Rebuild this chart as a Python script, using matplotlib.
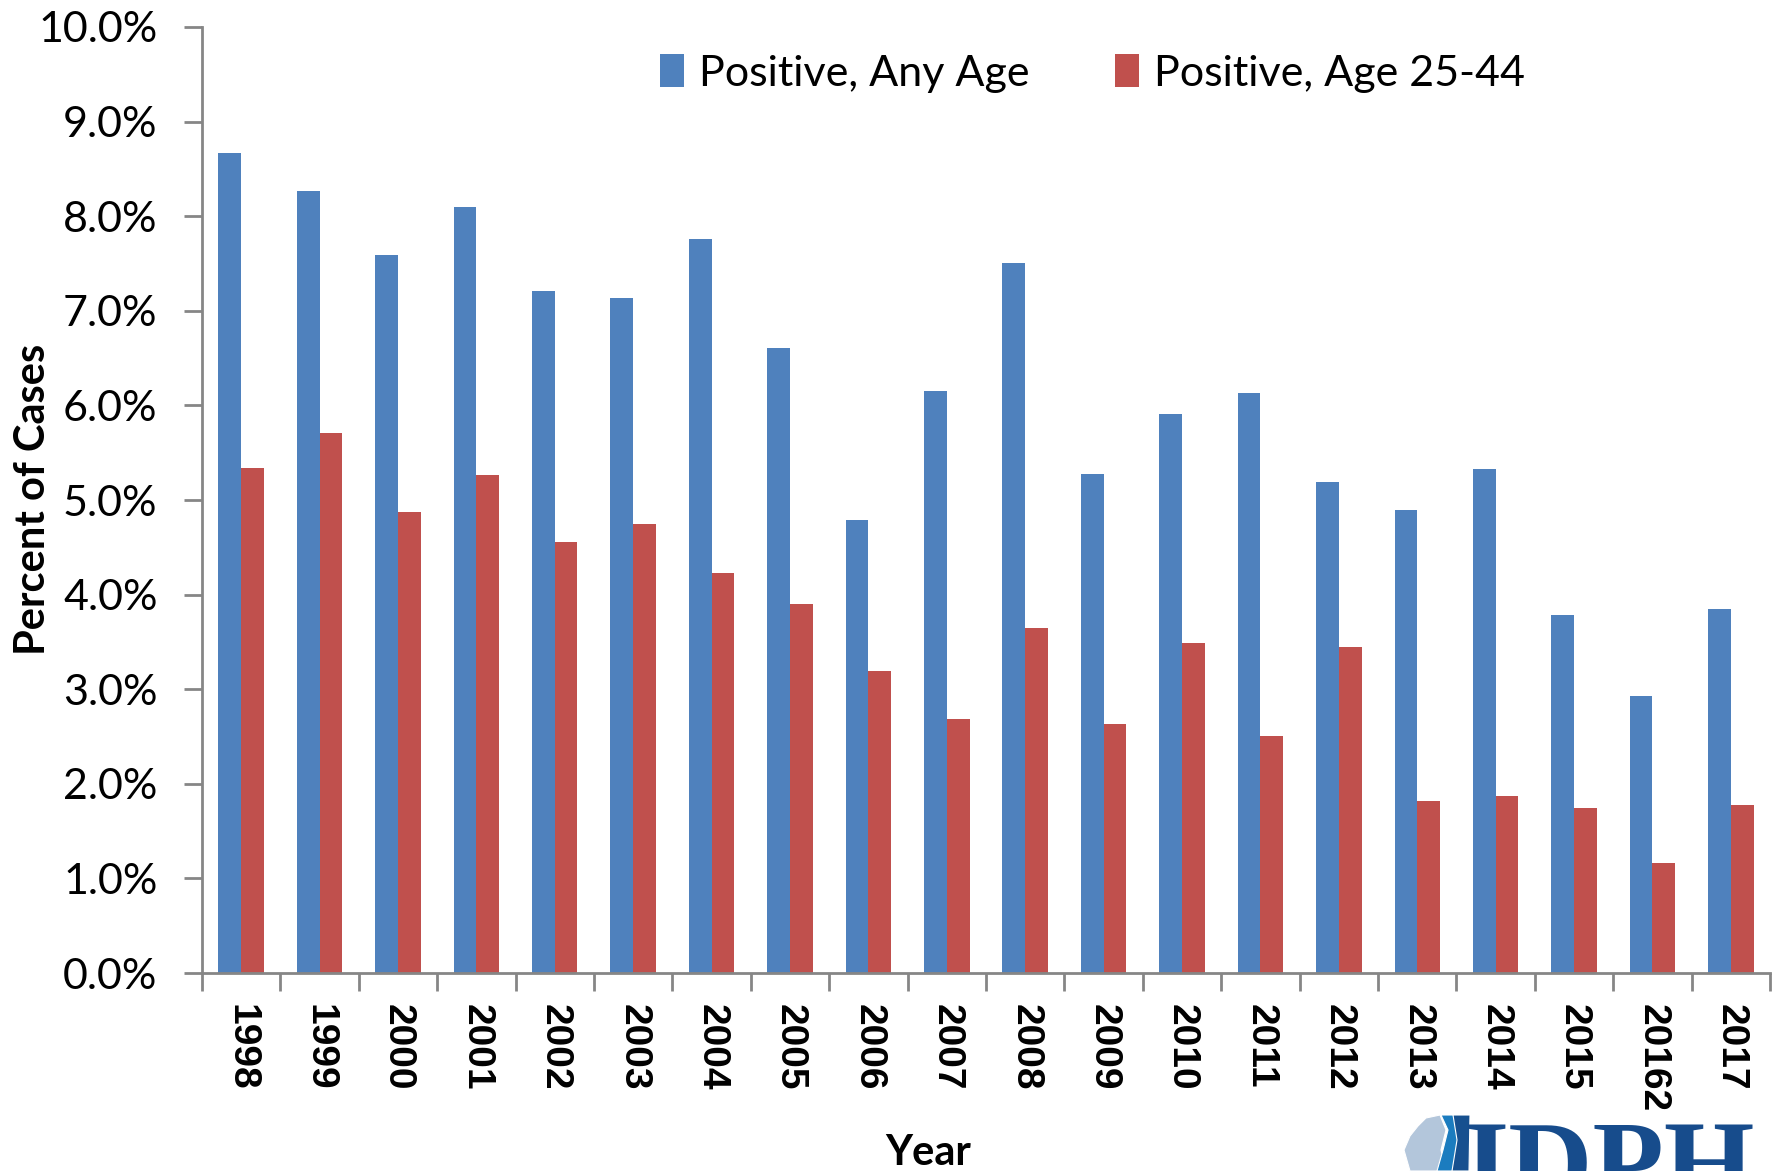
import matplotlib.pyplot as plt
import numpy as np
from matplotlib.patches import Polygon
from matplotlib.ticker import FuncFormatter, MultipleLocator

# ============================================================
# Data (percent of cases)
# ============================================================

years = ["1998", "1999", "2000", "2001", "2002", "2003", "2004", "2005",
         "2006", "2007", "2008", "2009", "2010", "2011", "2012", "2013",
         "2014", "2015", "20162", "2017"]

any_age = [8.67, 8.27, 7.59, 8.10, 7.21, 7.14, 7.76, 6.61, 4.79, 6.15,
           7.50, 5.27, 5.91, 6.13, 5.19, 4.89, 5.33, 3.79, 2.93, 3.85]

age_25_44 = [5.34, 5.71, 4.87, 5.26, 4.56, 4.75, 4.23, 3.90, 3.19, 2.69,
             3.65, 2.63, 3.49, 2.51, 3.45, 1.82, 1.87, 1.74, 1.16, 1.78]

series_labels = ["Positive, Any Age", "Positive, Age 25-44"]

BLUE = "#4f81bd"
RED = "#c0504d"
GREY = "#868686"

W, H = 1779, 1171

# ============================================================
# Figure
# ============================================================

fig = plt.figure(figsize=(W / 100, H / 100), dpi=100)
ax = fig.add_axes([0.1135, 0.169, 0.8815, 0.808])

x = np.arange(len(years))
width = 0.29

ax.bar(x - width / 2, any_age, width, color=BLUE, label=series_labels[0])
ax.bar(x + width / 2, age_25_44, width, color=RED, label=series_labels[1])

ax.set_xlim(-0.5, len(years) - 0.5)
ax.set_ylim(0, 10)

ax.yaxis.set_major_locator(MultipleLocator(1))
ax.yaxis.set_major_formatter(FuncFormatter(lambda v, _: f"{v:.1f}%"))

ax.set_xticks(x)
ax.set_xticklabels(years, rotation=-90, fontsize=28, fontweight="bold",
                   family="Liberation Sans")
ax.set_xticks(np.arange(-0.5, len(years)), minor=True)
ax.tick_params(axis="x", which="major", length=0, pad=22)
ax.tick_params(axis="x", which="minor", length=13, width=2, color=GREY)
ax.tick_params(axis="y", length=13, width=2, color=GREY, pad=19)

for lab in ax.get_yticklabels():
    lab.set_fontsize(31)
    lab.set_family("Lato")

for side in ["top", "right"]:
    ax.spines[side].set_visible(False)
for side in ["left", "bottom"]:
    ax.spines[side].set_color(GREY)
    ax.spines[side].set_linewidth(2)

# axis titles
fig.text(45 / W, 1 - 499 / H, "Percent of Cases", rotation=90,
         rotation_mode="anchor", ha="center", va="baseline",
         fontsize=30, fontweight="bold", family="Lato")

fig.text(928 / W, 6 / H, "Year", ha="center", va="baseline", fontsize=30,
         fontweight="bold", family="Lato")

ax.legend(loc="upper center", bbox_to_anchor=(0.568, 1.012), ncol=2,
          frameon=False, prop={"family": "Lato", "size": 31},
          handlelength=0.55, handleheight=0.8, handletextpad=0.35,
          columnspacing=2.0)

# ------------------------------------------------------------
# IDPH logo, cut off by the bottom edge
# ------------------------------------------------------------

def px(points):
    return [(px_x / W, 1 - px_y / H) for px_x, px_y in points]


light = [(1410, 1171), (1404, 1150), (1410, 1136), (1418, 1126),
         (1426, 1118), (1440, 1115), (1446, 1130), (1441, 1150),
         (1446, 1171)]
mid = [(1437, 1171), (1443, 1150), (1448, 1130), (1441, 1115),
       (1455, 1115), (1459, 1135), (1453, 1171)]
dark = [(1452, 1171), (1457, 1140), (1453, 1115), (1470, 1115),
        (1469, 1171)]

for pts, col in [(light, "#b3c6db"), (mid, "#1b7cbf"), (dark, "#17508f")]:
    fig.patches.append(Polygon(px(pts), closed=True, facecolor=col,
                               edgecolor="white", linewidth=0.8,
                               transform=fig.transFigure, figure=fig))

fig.text(1463 / W, -30 / H, "IDPH", ha="left", va="baseline", fontsize=84,
         fontweight="bold", color="#174c8c", family="Liberation Serif")

fig.savefig("out.png", dpi=100)
